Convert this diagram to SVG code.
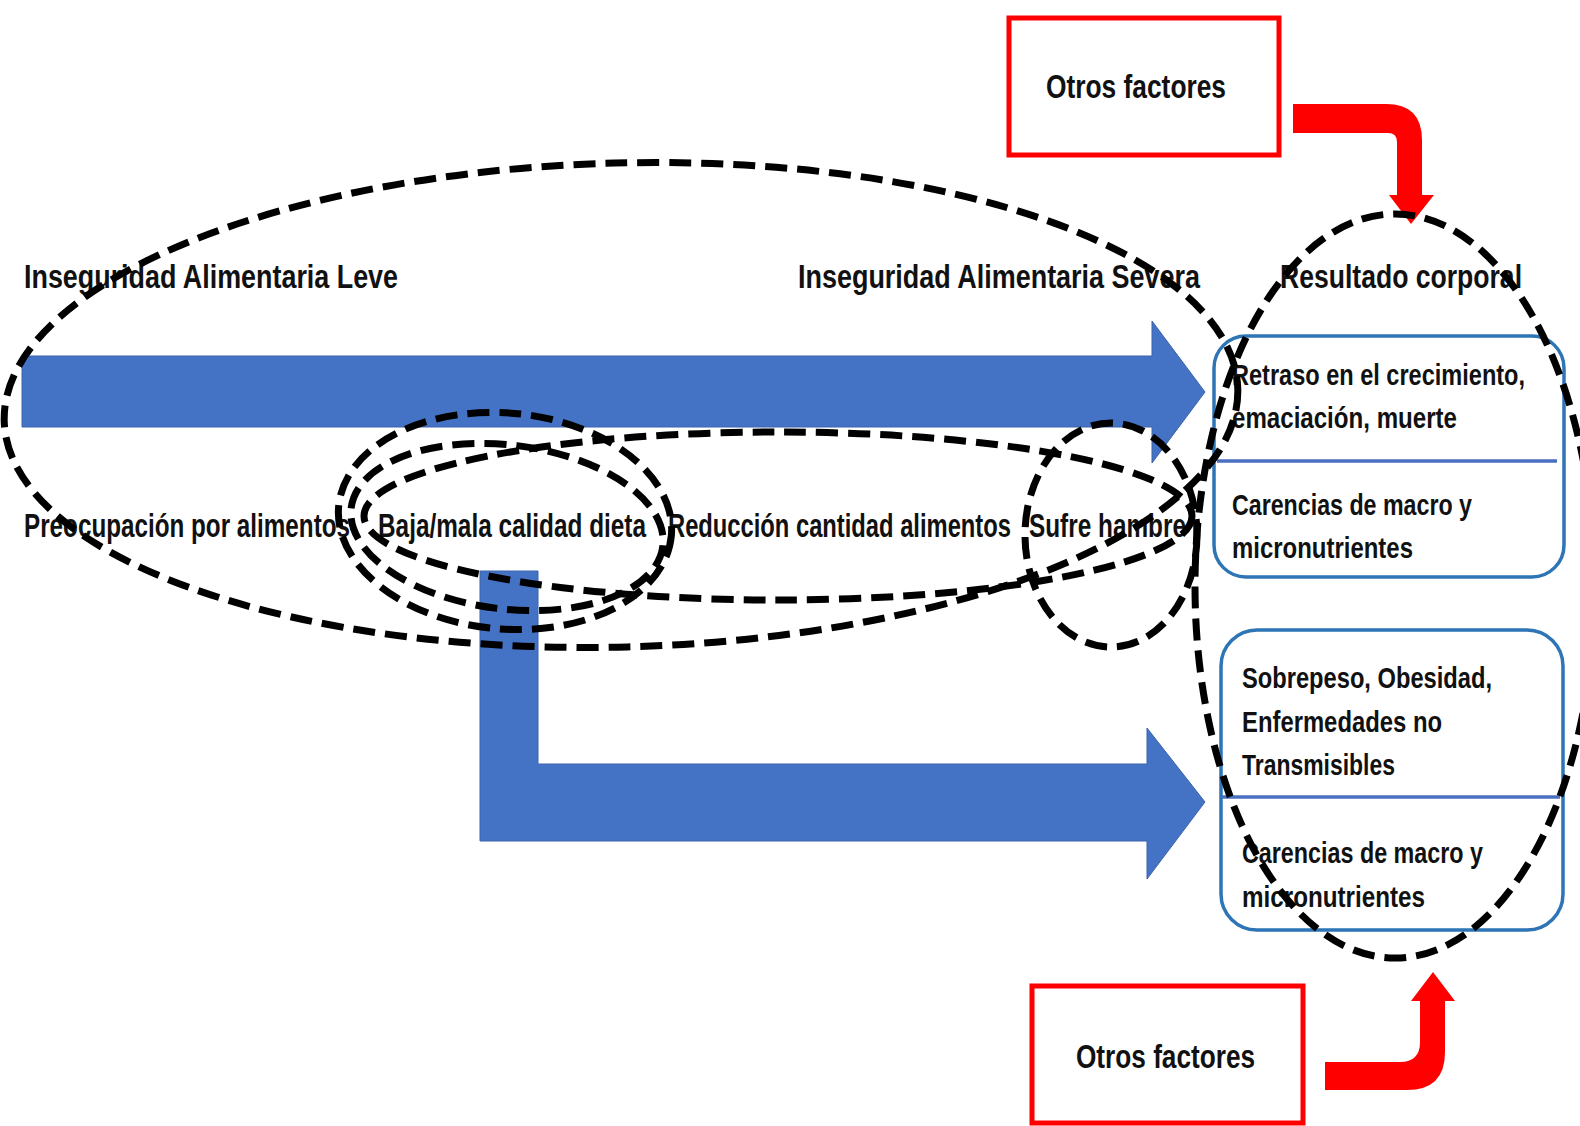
<svg xmlns="http://www.w3.org/2000/svg" width="1580" height="1126" viewBox="0 0 1580 1126">
<style>
  .t { font-family: "Liberation Sans", Arial, sans-serif; font-weight: bold; fill: #111; }
  .big { font-size: 33px; }
  .box { font-size: 30px; }
  .red { fill: #fff; stroke: #ff0000; stroke-width: 5; }
  .res { fill: #fff; stroke: #2e75b6; stroke-width: 3.5; }
  .div { stroke: #4a6fc0; stroke-width: 3.5; }
  .blue { fill: #4472c4; stroke: #3c64ae; stroke-width: 1; }
  .redarrow { fill: #ff0000; }
  .dash { fill: none; stroke: #000; stroke-width: 7; stroke-dasharray: 22 10; }
</style>
<rect width="1580" height="1126" fill="#fff"/>

<g id="connectors">
  <path class="blue" d="M22,356 L1152,356 L1152,321 L1205,392 L1152,463 L1152,427 L22,427 Z"/>
  <path class="blue" d="M480,571 L538,571 L538,764 L1147,764 L1147,728 L1205,802 L1147,879 L1147,841 L480,841 Z"/>
  <path class="redarrow" d="M1293,104 L1386,104 Q1422,104 1422,140 L1422,195 L1434,195 L1411,224 L1389,195 L1397,195 L1397,142 Q1397,133 1388,133 L1293,133 Z"/>
  <path class="redarrow" d="M1325,1062 L1400,1062 Q1420,1062 1420,1042 L1420,1001 L1411,1001 L1433,972 L1455,1001 L1445,1001 L1445,1052 Q1445,1090 1407,1090 L1325,1090 Z"/>
</g>

<g id="otros-top">
  <rect class="red" x="1009" y="18" width="270" height="137"/>
  <text class="t big" transform="matrix(0.75 0 0 1 1046 98)" textLength="240" lengthAdjust="spacingAndGlyphs">Otros factores</text>
</g>
<g id="otros-bottom">
  <rect class="red" x="1032" y="986" width="271" height="137"/>
  <text class="t big" transform="matrix(0.75 0 0 1 1076 1068)" textLength="238.7" lengthAdjust="spacingAndGlyphs">Otros factores</text>
</g>

<g id="leve">
  <text class="t big" transform="matrix(0.75 0 0 1 24 288)" textLength="498.7" lengthAdjust="spacingAndGlyphs">Inseguridad Alimentaria Leve</text>
</g>
<g id="severa">
  <text class="t big" transform="matrix(0.75 0 0 1 798 288)" textLength="536" lengthAdjust="spacingAndGlyphs">Inseguridad Alimentaria Severa</text>
</g>
<g id="resultado">
  <text class="t big" transform="matrix(0.75 0 0 1 1280 288)" textLength="322.7" lengthAdjust="spacingAndGlyphs">Resultado corporal</text>
</g>

<g id="preocupacion">
  <text class="t big" transform="matrix(0.75 0 0 1 24 537)" textLength="434.7" lengthAdjust="spacingAndGlyphs">Preocupación por alimentos</text>
</g>
<g id="baja">
  <text class="t big" transform="matrix(0.75 0 0 1 378 537)" textLength="357.3" lengthAdjust="spacingAndGlyphs">Baja/mala calidad dieta</text>
</g>
<g id="reduccion">
  <text class="t big" transform="matrix(0.75 0 0 1 668 537)" textLength="457.3" lengthAdjust="spacingAndGlyphs">Reducción cantidad alimentos</text>
</g>
<g id="hambre">
  <text class="t big" transform="matrix(0.75 0 0 1 1029 537)" textLength="209.3" lengthAdjust="spacingAndGlyphs">Sufre hambre</text>
</g>

<g id="resultado-1">
  <rect class="res" x="1214" y="336" width="350" height="241" rx="32"/>
  <line class="div" x1="1217" y1="461" x2="1557" y2="461"/>
  <text class="t box" transform="matrix(0.75 0 0 1 1232 385)" textLength="390.7" lengthAdjust="spacingAndGlyphs">Retraso en el crecimiento,</text>
  <text class="t box" transform="matrix(0.75 0 0 1 1232 428)" textLength="300" lengthAdjust="spacingAndGlyphs">emaciación, muerte</text>
  <text class="t box" transform="matrix(0.75 0 0 1 1232 515)" textLength="320" lengthAdjust="spacingAndGlyphs">Carencias de macro y</text>
  <text class="t box" transform="matrix(0.75 0 0 1 1232 558)" textLength="241.3" lengthAdjust="spacingAndGlyphs">micronutrientes</text>
</g>
<g id="resultado-2">
  <rect class="res" x="1221" y="630" width="342" height="300" rx="36"/>
  <line class="div" x1="1222" y1="797" x2="1560" y2="797"/>
  <text class="t box" transform="matrix(0.75 0 0 1 1242 688)" textLength="333.3" lengthAdjust="spacingAndGlyphs">Sobrepeso, Obesidad,</text>
  <text class="t box" transform="matrix(0.75 0 0 1 1242 732)" textLength="266.7" lengthAdjust="spacingAndGlyphs">Enfermedades no</text>
  <text class="t box" transform="matrix(0.75 0 0 1 1242 775)" textLength="204" lengthAdjust="spacingAndGlyphs">Transmisibles</text>
  <text class="t box" transform="matrix(0.75 0 0 1 1242 863)" textLength="321.3" lengthAdjust="spacingAndGlyphs">Carencias de macro y</text>
  <text class="t box" transform="matrix(0.75 0 0 1 1242 907)" textLength="244" lengthAdjust="spacingAndGlyphs">micronutrientes</text>
</g>

<g id="groupings">
  <ellipse class="dash" cx="621" cy="405" rx="617" ry="242" transform="rotate(-1.5 621 405)"/>
  <ellipse class="dash" cx="505" cy="521" rx="167" ry="108" transform="rotate(5 505 521)"/>
  <ellipse class="dash" cx="507" cy="527" rx="157" ry="82" transform="rotate(7 507 527)"/>
  <ellipse class="dash" cx="778" cy="516" rx="414" ry="84"/>
  <ellipse class="dash" cx="1111" cy="535" rx="86" ry="112"/>
  <ellipse class="dash" cx="1395" cy="586" rx="200" ry="372"/>
</g>
</svg>
